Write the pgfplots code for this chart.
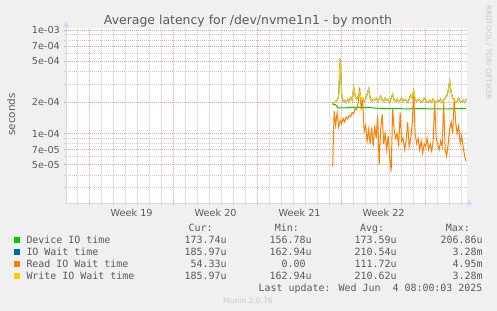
\documentclass[border=0pt]{standalone}
\usepackage{fontspec}
\setmainfont{DejaVu Sans}
\newfontfamily\monofont{DejaVu Sans Mono}
\usepackage{pgfplots}
\pgfplotsset{compat=1.18}
\usepackage{pgfplotstable}
\usetikzlibrary{arrows.meta}

\definecolor{bgc}{HTML}{F0F0F0}
\definecolor{fontc}{HTML}{5A5A5A}
\definecolor{axisc}{HTML}{CFD6F8}
\definecolor{mgridc}{HTML}{E8A0A0}
\definecolor{gridc}{HTML}{CCCCCC}
\definecolor{devc}{HTML}{00CC00}
\definecolor{waitc}{HTML}{0066B3}
\definecolor{readc}{HTML}{FF8000}
\definecolor{writec}{HTML}{FFCC00}
\definecolor{markc}{HTML}{C8C8C8}

\pgfplotstableread{
d dev
23.25 1.92e-4
23.50 1.90e-4
23.70 1.78e-4
24.00 1.77e-4
24.50 1.78e-4
25.00 1.80e-4
25.50 1.79e-4
26.00 1.78e-4
26.30 1.80e-4
26.60 1.77e-4
27.00 1.76e-4
27.50 1.75e-4
28.00 1.74e-4
28.50 1.75e-4
29.00 1.74e-4
29.50 1.73e-4
30.00 1.75e-4
30.50 1.74e-4
31.00 1.74e-4
31.50 1.73e-4
32.00 1.74e-4
32.50 1.73e-4
33.00 1.74e-4
33.50 1.75e-4
34.00 1.74e-4
34.375 1.74e-4
}\devtab

\pgfplotstableread{
d read write
23.250 4.8e-5 1.95e-4
23.375 1.65e-4 2.0e-4
23.500 1.2e-4 2.05e-4
23.625 1.6e-4 2.1e-4
23.750 1.15e-4 2.3e-4
23.875 1.35e-4 5.3e-4
24.000 1.25e-4 2.4e-4
24.125 1.4e-4 2.05e-4
24.250 1.3e-4 2.1e-4
24.375 1.45e-4 2.0e-4
24.500 1.38e-4 2.15e-4
24.625 1.5e-4 2.05e-4
24.750 1.45e-4 2.25e-4
24.875 1.6e-4 2.1e-4
25.000 1.55e-4 2.8e-4
25.125 1.75e-4 2.3e-4
25.250 1.7e-4 2.15e-4
25.375 2.0e-4 2.3e-4
25.500 2.8e-4 2.5e-4
25.625 1.7e-4 2.1e-4
25.750 2.2e-4 2.2e-4
25.875 1.05e-4 2.05e-4
26.000 1.2e-4 2.15e-4
26.125 8.5e-5 2.4e-4
26.250 1.1e-4 2.7e-4
26.375 8.0e-5 2.2e-4
26.500 1.15e-4 2.05e-4
26.625 7.5e-5 2.15e-4
26.750 1.2e-4 2.1e-4
26.875 9.0e-5 2.2e-4
27.000 1.5e-4 2.05e-4
27.125 5.0e-5 2.15e-4
27.250 1.1e-4 2.3e-4
27.375 1.55e-4 2.1e-4
27.500 8.0e-5 2.05e-4
27.625 1.0e-4 2.2e-4
27.750 7.0e-5 2.1e-4
27.875 9.5e-5 2.15e-4
28.000 6.0e-5 2.0e-4
28.125 4.3e-5 2.2e-4
28.250 1.75e-4 2.4e-4
28.375 1.1e-4 2.1e-4
28.500 9.0e-5 2.05e-4
28.625 1.0e-4 2.15e-4
28.750 7.5e-5 2.0e-4
28.875 1.6e-4 2.1e-4
29.000 8.5e-5 2.2e-4
29.125 9.0e-5 2.05e-4
29.250 7.0e-5 2.15e-4
29.375 8.5e-5 2.1e-4
29.500 1.3e-4 2.0e-4
29.625 7.5e-5 2.15e-4
29.750 9.0e-5 2.35e-4
29.875 1.2e-4 2.2e-4
30.000 2.6e-4 2.6e-4
30.125 1.0e-4 2.1e-4
30.250 8.0e-5 2.05e-4
30.375 9.0e-5 2.15e-4
30.500 7.0e-5 2.1e-4
30.625 8.5e-5 2.0e-4
30.750 6.5e-5 2.05e-4
30.875 8.0e-5 2.2e-4
31.000 7.5e-5 2.1e-4
31.125 9.0e-5 2.0e-4
31.250 7.0e-5 2.05e-4
31.375 8.0e-5 2.1e-4
31.500 6.8e-5 2.0e-4
31.625 8.5e-5 2.15e-4
31.750 2.0e-4 2.05e-4
31.875 9.0e-5 2.0e-4
32.000 8.0e-5 2.1e-4
32.125 7.0e-5 2.05e-4
32.250 8.5e-5 2.15e-4
32.375 7.5e-5 2.0e-4
32.500 2.0e-4 2.1e-4
32.625 7.0e-5 2.2e-4
32.750 6.0e-5 2.3e-4
32.875 8.0e-5 2.6e-4
33.000 1.1e-4 3.2e-4
33.125 1.3e-4 2.5e-4
33.250 1.0e-4 2.2e-4
33.375 2.2e-4 2.1e-4
33.500 1.3e-4 2.0e-4
33.625 1.0e-4 2.05e-4
33.750 1.2e-4 2.2e-4
33.875 8.0e-5 2.05e-4
34.000 9.5e-5 2.0e-4
34.125 7.5e-5 2.1e-4
34.250 6.0e-5 2.0e-4
34.375 5.4e-5 2.15e-4
}\rwtab

\begin{document}
\begin{tikzpicture}
\useasboundingbox (0,0) rectangle (497bp,-311bp);
\fill[bgc] (0,0) rectangle (497bp,-311bp);
\begin{axis}[
  at={(66bp,-203.3bp)}, anchor=south west,
  scale only axis, width=400.7bp, height=175.3bp,
  xmin=1.03, xmax=34.42,
  ymode=log, ymin=2.13e-5, ymax=1.045e-3,
  axis background/.style={fill=white},
  axis lines*=left,
  axis line style={draw=axisc, line width=1bp, shorten >=-6bp, -{Triangle[length=5bp,width=6bp]}},
  xtick={3,10,17,24,31}, xticklabels={},
  minor xtick={2,4,5,6,7,8,9,11,12,13,14,15,16,18,19,20,21,22,23,25,26,27,28,29,30,32,33,34},
  extra x ticks={6.5,13.5,20.5,27.5},
  extra x tick labels={Week 19,Week 20,Week 21,Week 22},
  extra x tick style={grid=none, major tick length=0pt},
  ytick={5e-5,7e-5,1e-4,2e-4,5e-4,7e-4,1e-3},
  yticklabels={5e-05,7e-05,1e-04,2e-04,5e-04,7e-04,1e-03},
  minor ytick={3e-5,4e-5,6e-5,8e-5,9e-5,3e-4,4e-4,6e-4,8e-4,9e-4},
  grid=both,
  major grid style={draw=mgridc, line width=0.8bp, dash pattern=on 1bp off 1bp},
  minor grid style={draw=gridc, line width=0.8bp, dash pattern=on 1bp off 1bp},
  tick align=outside, major tick length=2bp, minor tick length=2bp,
  major tick style={draw=mgridc, line width=0.8bp},
  minor tick style={draw=gridc, line width=0.8bp},
  tick label style={font=\fontsize{9.7}{11}\selectfont, text=fontc},
  yticklabel style={anchor=east, inner sep=0pt, xshift=-4bp},
  xticklabel style={anchor=base, inner sep=0pt, yshift=-13bp},
  clip=true,
]
\addplot[draw=devc, line width=1bp, no marks] table[x=d, y=dev] {\devtab};
\addplot[draw=waitc, line width=1bp, no marks] table[x=d, y=write] {\rwtab};
\addplot[draw=readc, line width=1bp, no marks] table[x=d, y=read] {\rwtab};
\addplot[draw=writec, line width=1bp, no marks] table[x=d, y=write] {\rwtab};
\end{axis}

% title and labels
\node[anchor=base, inner sep=0pt, text=fontc, font=\fontsize{12.5}{14}\selectfont] at (248bp,-24bp) {Average latency for /dev/nvme1n1 - by month};
\node[anchor=base, rotate=90, inner sep=0pt, text=fontc, font=\fontsize{10.5}{12}\selectfont] at (15bp,-114.4bp) {seconds};
\node[anchor=center, rotate=-90, inner sep=0pt, text=markc, font=\fontsize{7.4}{9}\selectfont] at (488.5bp,-52.5bp) {RRDTOOL / TOBI OETIKER};
\node[anchor=center, inner sep=0pt, text=markc, font=\fontsize{7.6}{9}\selectfont] at (248bp,-300.3bp) {Munin 2.0.76};

% legend
\begin{scope}[every node/.style={inner sep=0pt, text=fontc, font=\fontsize{10}{12}\selectfont\monofont}]
\node[anchor=base east] at (212.7bp,-231.3bp) {Cur:};
\node[anchor=base east] at (299bp,-231.3bp) {Min:};
\node[anchor=base east] at (384.3bp,-231.3bp) {Avg:};
\node[anchor=base east] at (470bp,-231.3bp) {Max:};

\fill[devc] (14.3bp,-237.3bp) rectangle (20.3bp,-243.3bp);
\node[anchor=base west] at (26.3bp,-243.3bp) {Device IO time};
\node[anchor=base east] at (226.7bp,-243.3bp) {173.74u};
\node[anchor=base east] at (311.7bp,-243.3bp) {156.78u};
\node[anchor=base east] at (396.7bp,-243.3bp) {173.59u};
\node[anchor=base east] at (482.7bp,-243.3bp) {206.86u};

\fill[waitc] (14.3bp,-249.3bp) rectangle (20.3bp,-255.3bp);
\node[anchor=base west] at (26.3bp,-255.3bp) {IO Wait time};
\node[anchor=base east] at (226.7bp,-255.3bp) {185.97u};
\node[anchor=base east] at (311.7bp,-255.3bp) {162.94u};
\node[anchor=base east] at (396.7bp,-255.3bp) {210.54u};
\node[anchor=base east] at (482.7bp,-255.3bp) {3.28m};

\fill[readc] (14.3bp,-261.3bp) rectangle (20.3bp,-267.3bp);
\node[anchor=base west] at (26.3bp,-267.3bp) {Read IO Wait time};
\node[anchor=base east] at (226.7bp,-267.3bp) {54.33u};
\node[anchor=base east] at (311.7bp,-267.3bp) {0.00\phantom{u}};
\node[anchor=base east] at (396.7bp,-267.3bp) {111.72u};
\node[anchor=base east] at (482.7bp,-267.3bp) {4.95m};

\fill[writec] (14.3bp,-273.3bp) rectangle (20.3bp,-279.3bp);
\node[anchor=base west] at (26.3bp,-279.3bp) {Write IO Wait time};
\node[anchor=base east] at (226.7bp,-279.3bp) {185.97u};
\node[anchor=base east] at (311.7bp,-279.3bp) {162.94u};
\node[anchor=base east] at (396.7bp,-279.3bp) {210.62u};
\node[anchor=base east] at (482.7bp,-279.3bp) {3.28m};

\node[anchor=base east] at (482.7bp,-291.3bp) {Last update: Wed Jun~~4 08:00:03 2025};
\end{scope}
\end{tikzpicture}
\end{document}
